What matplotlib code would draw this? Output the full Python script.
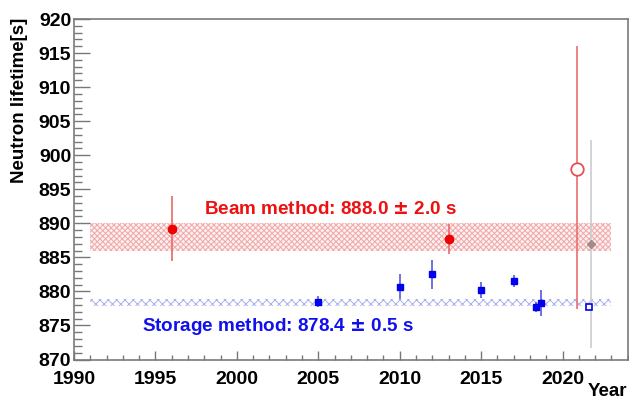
import matplotlib
matplotlib.use("Agg")
import matplotlib.pyplot as plt
from matplotlib.ticker import MultipleLocator

plt.rcParams['font.family'] = ['Liberation Sans', 'DejaVu Sans']
plt.rcParams['font.weight'] = 'bold'
plt.rcParams['hatch.linewidth'] = 0.7

# Beam method measurements (filled red circles)
beam_years = [1996.0, 2013.0]
beam_vals = [889.2, 887.7]
beam_errs = [4.8, 2.2]

# Storage method measurements (filled blue squares)
storage_years = [2005.0, 2010.0, 2012.0, 2015.0, 2017.0, 2018.35, 2018.7]
storage_vals = [878.5, 880.7, 882.5, 880.2, 881.5, 877.7, 878.3]
storage_errs = [0.8, 1.8, 2.1, 1.2, 0.9, 0.7, 1.9]

# Recent beam result (open red circle), asymmetric error
jparc_year = [2020.9]
jparc_val = [898.0]
jparc_err_lo = [20.6]
jparc_err_hi = [18.1]

# Space-based result (grey diamond)
space_year = [2021.75]
space_val = [887.0]
space_err = [15.3]

# Recent storage result (open blue square)
ucn_year = [2021.6]
ucn_val = [877.75]
ucn_err = [0.3]

# Averages
beam_avg, beam_avg_err = 888.0, 2.0
storage_avg, storage_avg_err = 878.4, 0.5
band_x = [1991, 2023]

fig = plt.figure(figsize=(6.29, 3.99), dpi=100)
ax = fig.add_axes([74/629, 1 - 359.5/399, (627.7 - 74)/629, (359.5 - 19)/399])

ax.set_xlim(1990, 2024)
ax.set_ylim(870, 920)

# bands
ax.fill_between(band_x, beam_avg - beam_avg_err, beam_avg + beam_avg_err,
                facecolor='#fdf0f0', edgecolor='#f0a8a8', hatch='xxxxxx', linewidth=0, zorder=1)
ax.fill_between(band_x, storage_avg - storage_avg_err, storage_avg + storage_avg_err,
                facecolor='none', edgecolor='#a9b0ee', hatch='xxxx', linewidth=0, zorder=1)

# data
ax.errorbar(beam_years, beam_vals, yerr=beam_errs, fmt='o', color='#f00000',
            ecolor='#e86a6a', elinewidth=1.2, markersize=6, capsize=0, zorder=4)
ax.errorbar(storage_years, storage_vals, yerr=storage_errs, fmt='s', color='#0000ee',
            ecolor='#4a4ad8', elinewidth=1.1, markersize=4.8, capsize=0, zorder=4)
ax.errorbar(jparc_year, jparc_val, yerr=[jparc_err_lo, jparc_err_hi], fmt='o', mfc='white',
            mec='#e85050', mew=1.3, ecolor='#e87070', elinewidth=1.2, markersize=9,
            capsize=0, zorder=4)
ax.errorbar(space_year, space_val, yerr=space_err, fmt='D', color='#a08c8c',
            ecolor='#cccccc', elinewidth=1.2, markersize=4.5, capsize=0, zorder=3)
ax.errorbar(ucn_year, ucn_val, yerr=ucn_err, fmt='s', mfc='white', mec='#0000ee',
            mew=1.2, ecolor='#0000ee', elinewidth=1.0, markersize=5, capsize=0, zorder=5)

# annotations
ax.text(1998.0, 892.0, 'Beam method: 888.0 $\\pm$ 2.0 s', color='#ee1010',
        fontsize=13.6, fontweight='bold', va='center', ha='left')
ax.text(1994.2, 874.9, 'Storage method: 878.4 $\\pm$ 0.5 s', color='#1010ee',
        fontsize=13.6, fontweight='bold', va='center', ha='left')

# axes styling
ax.xaxis.set_major_locator(MultipleLocator(5))
ax.xaxis.set_minor_locator(MultipleLocator(1))
ax.yaxis.set_major_locator(MultipleLocator(5))
ax.yaxis.set_minor_locator(MultipleLocator(1))
ax.tick_params(axis='both', which='both', direction='in', color='#777777', width=1.0,
               labelsize=14, top=False, right=False)
ax.tick_params(axis='y', which='major', length=11.5, pad=2)
ax.tick_params(axis='y', which='minor', length=5.5)
ax.tick_params(axis='x', which='major', length=6.5, pad=8)
ax.tick_params(axis='x', which='minor', length=3.6)
for lab in ax.get_xticklabels() + ax.get_yticklabels():
    lab.set_fontweight('bold')
for s in ax.spines.values():
    s.set_color('#7a7a7a')
    s.set_linewidth(1.2)

ax.set_ylabel('Neutron lifetime[s]', fontsize=13.5, fontweight='bold')
ax.yaxis.set_label_coords(-0.083, 0.76)
fig.text(627/629, 1 - 392/399, 'Year', fontsize=13.5, fontweight='bold', ha='right', va='center')

fig.savefig('out.png', dpi=100)
